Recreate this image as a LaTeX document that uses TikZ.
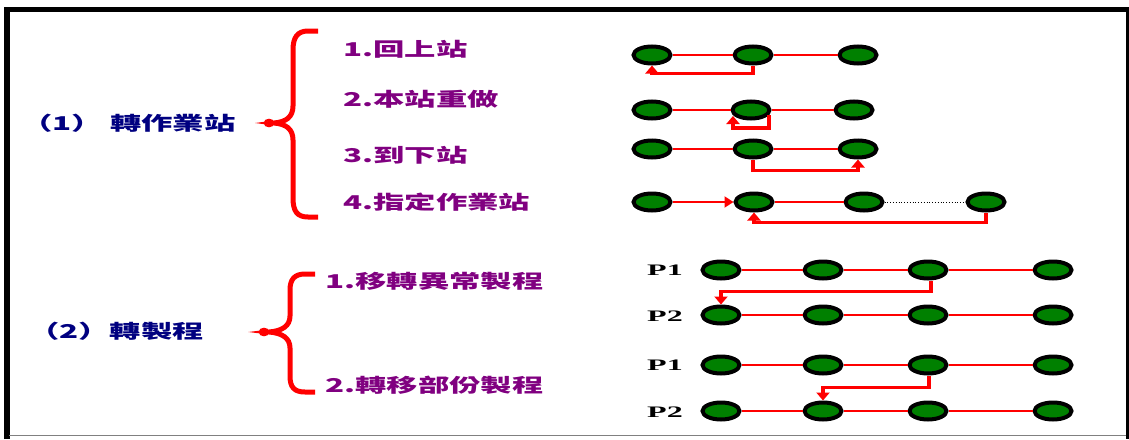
\documentclass[tikz,border=0pt]{standalone}
\usepackage{fontspec}
\usepackage{graphicx}
\usetikzlibrary{arrows.meta,calc,shapes.geometric}
\setmainfont{Liberation Serif}
\newfontfamily\cjk{Noto Sans CJK TC}
\definecolor{nodegreen}{HTML}{008000}
\definecolor{lblue}{HTML}{000080}
\definecolor{lpurple}{HTML}{800080}
\newcommand{\wide}[1]{\scalebox{1.65}[1]{#1}}
\begin{document}
\begin{tikzpicture}[x=1pt,y=-1pt,
  st/.style={ellipse, draw=black, line width=4pt, fill=nodegreen, minimum width=37pt, minimum height=17pt, inner sep=0pt},
  link/.style={red, line width=2pt},
  flow/.style={red, line width=3.3pt, -{Triangle[width=13pt,length=8pt]}},
  item/.style={anchor=west, inner sep=0pt, text=lpurple, font=\fontsize{19}{22}\selectfont\cjk\bfseries},
  head/.style={anchor=west, inner sep=0pt, text=lblue, font=\fontsize{19}{22}\selectfont\cjk\bfseries},
  plabel/.style={inner sep=0pt, font=\fontsize{16}{18}\selectfont\bfseries},
  brace/.style={red, line width=5pt, line cap=butt}
]
\useasboundingbox (0,0) rectangle (1129,439);
% frame
\draw[line width=5.5pt] (7,439) -- (7,9.5) -- (1129,9.5);
\draw[line width=3pt] (1127.5,9.5) -- (1127.5,439);
\draw[gray, line width=1.5pt] (9,435.5) -- (1126,435.5);

% section 1 labels
\node[head] (h1) at (21,123) {\wide{（1） 轉作業站}};
\node[item] (t1) at (343,49) {\wide{1.回上站}};
\node[item] (t2) at (343,99) {\wide{2.本站重做}};
\node[item] (t3) at (343,155) {\wide{3.到下站}};
\node[item] (t4) at (343,202) {\wide{4.指定作業站}};

% brace 1
\draw[brace] (318,31) -- (308,31) .. controls (297,31) and (293,38) .. (293,50) -- (293,106)
  .. controls (293,117) and (286,122) .. (274,123)
  .. controls (286,124) and (293,129) .. (293,140) -- (293,198)
  .. controls (293,211) and (297,217) .. (308,217) -- (318,217);
\draw[red, line width=2.5pt] (269,123) ellipse [x radius=4, y radius=3];

% section 1 nodes
\node[st] (n11) at (652,55) {};
\node[st] (n12) at (753,55) {};
\node[st] (n13) at (858,55) {};
\node[st] (n21) at (652,110) {};
\node[st] (n22) at (751,110) {};
\node[st] (n23) at (854,110) {};
\node[st] (n31) at (652,149) {};
\node[st] (n32) at (753,149) {};
\node[st] (n33) at (858,149) {};
\node[st] (n41) at (652,202) {};
\node[st] (n42) at (754,202) {};
\node[st] (n43) at (864,202) {};
\node[st] (n44) at (986,202) {};

\draw[link] (n11) -- (n12); \draw[link] (n12) -- (n13);
\draw[link] (n21) -- (n22); \draw[link] (n22) -- (n23);
\draw[link] (n31) -- (n32); \draw[link] (n32) -- (n33);
\draw[link, -{Triangle[width=11pt,length=9pt]}] (n41) -- (n42);
\draw[link] (n42) -- (n43);
\draw[dotted, line width=0.8pt] (n43) -- (n44);

\draw[flow] (n12.south) -- ++(0,8) -| (n11.south);
\draw[flow] ($(n22.center)+(18,5)$) -- ++(0,13) -| ($(n22.center)+(-18,6)$);
\draw[flow] (n32.south) -- ++(0,11) -| (n33.south);
\draw[flow] (n44.south) -- ++(0,10) -| (n42.south);

% section 2 labels
\node[head] (h2) at (28,331) {\wide{（2）轉製程}};
\node[item] (t5) at (325,281) {\wide{1.移轉異常製程}};
\node[item] (t6) at (325,385) {\wide{2.轉移部份製程}};

% brace 2
\draw[brace] (315,274) -- (305,274) .. controls (294,274) and (290,280) .. (290,290) -- (290,316)
  .. controls (290,326) and (282,331) .. (269,332)
  .. controls (282,333) and (290,338) .. (290,348) -- (290,376)
  .. controls (290,387) and (294,392) .. (305,392) -- (315,392);
\draw[red, line width=2.5pt] (264,332) ellipse [x radius=4, y radius=3];

% section 2 P labels
\node[plabel] (pa) at (665,270) {\scalebox{2}[1]{P1}};
\node[plabel] (pb) at (665,316) {\scalebox{2}[1]{P2}};
\node[plabel] (pc) at (665,365) {\scalebox{2}[1]{P1}};
\node[plabel] (pd) at (665,412) {\scalebox{2}[1]{P2}};

% section 2 nodes
\foreach \r/\y in {a/270,b/315,c/365,d/411}{
  \node[st] (\r1) at (721,\y) {};
  \node[st] (\r2) at (823,\y) {};
  \node[st] (\r3) at (928,\y) {};
  \node[st] (\r4) at (1053,\y) {};
  \draw[link] (\r1) -- (\r2);
  \draw[link] (\r2) -- (\r3);
  \draw[link] (\r3) -- (\r4);
}
\draw[flow] ($(a3.south)+(3,0)$) -- ++(0,11) -| (b1.north);
\draw[flow] ($(c3.south)+(1,0)$) -- ++(0,12) -| (d2.north);
\end{tikzpicture}
\end{document}
